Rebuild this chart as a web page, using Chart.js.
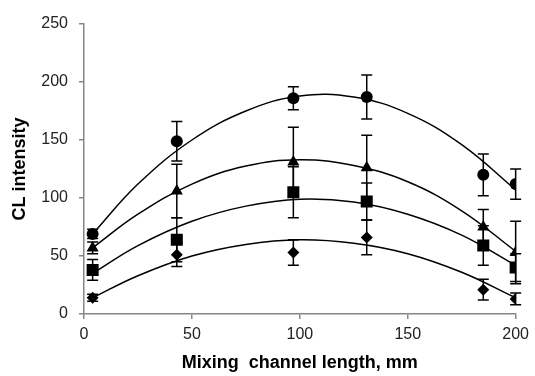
<!DOCTYPE html>
<html>
<head>
<meta charset="utf-8">
<script src="https://cdn.jsdelivr.net/npm/chart.js@4.4.1/dist/chart.umd.min.js"></script>
<style>
  html, body { margin: 0; padding: 0; background: #fff; }
  #wrap { width: 535px; height: 376px; }
</style>
</head>
<body>
<div id="wrap"><canvas id="myChart"></canvas></div>
<script>
// measured points (mixing channel length, mm)
const lengths = [4, 43, 97, 131, 185, 200]

const circleVals = [69, 149, 186, 187, 120, 112]
const circleErr = [4, 17, 10, 19, 18, 13]
const triangleVals = [57, 106, 131, 126, 75, 53]
const triangleErr = [5, 23, 30, 28, 15, 27]
const squareVals = [38, 64, 105, 97, 59, 40]
const squareErr = [9, 19, 22, 16, 17, 12]
const diamondVals = [14, 51, 53, 66, 21, 13]
const diamondErr = [3, 10, 11, 15, 9, 5]

// trend curves
const curveX = [4, 25, 50, 75, 100, 125, 150, 175, 200]
const circleCurve = [69, 112, 150, 175, 188, 187, 173, 146, 107]
const triangleCurve = [57, 86, 112, 127.5, 133, 128, 114, 89, 54]
const squareCurve = [35, 59, 80, 93, 99, 96.5, 86, 68, 42]
const diamondCurve = [14, 33, 50, 60, 64, 61, 52, 36, 14]

const xTicks = [0, 50, 100, 150, 200]
const yTicks = [0, 50, 100, 150, 200, 250]

const series = [
    { vals: circleVals, err: circleErr, curve: circleCurve, style: 'circle', r: 6 },
    { vals: triangleVals, err: triangleErr, curve: triangleCurve, style: 'triangle', r: 7 },
    { vals: squareVals, err: squareErr, curve: squareCurve, style: 'rect', r: 8.5 },
    { vals: diamondVals, err: diamondErr, curve: diamondCurve, style: 'rectRot', r: 6 }
]

const toPts = (xs, ys) => xs.map((x, i) => ({ x: x, y: ys[i] }))

let datasets = []
series.forEach(s => {
    datasets.push({
        data: toPts(curveX, s.curve),
        showLine: true,
        tension: 0.4,
        borderColor: '#000',
        borderWidth: 1.5,
        pointRadius: 0,
        order: 1
    })
})
series.forEach(s => {
    datasets.push({
        data: toPts(lengths, s.vals),
        showLine: false,
        pointStyle: s.style,
        pointRadius: s.r,
        pointBackgroundColor: '#000',
        pointBorderColor: '#000',
        pointBorderWidth: 0,
        order: 0
    })
})

const errorBars = {
    id: 'errorBars',
    beforeDatasetsDraw(chart) {
        const { ctx, scales: { x, y } } = chart
        ctx.save()
        ctx.strokeStyle = '#000'
        ctx.lineWidth = 1.5
        series.forEach(s => {
            s.vals.forEach((v, i) => {
                const px = x.getPixelForValue(lengths[i])
                const top = y.getPixelForValue(v + s.err[i])
                const bot = y.getPixelForValue(v - s.err[i])
                ctx.beginPath()
                ctx.moveTo(px, top); ctx.lineTo(px, bot)
                ctx.moveTo(px - 5.5, top); ctx.lineTo(px + 5.5, top)
                ctx.moveTo(px - 5.5, bot); ctx.lineTo(px + 5.5, bot)
                ctx.stroke()
            })
        })
        ctx.restore()
    }
}

const tickFont = { family: 'Liberation Sans', size: 16 }
const titleFont = { family: 'Liberation Sans', size: 18, weight: 'bold' }

new Chart(document.getElementById('myChart'), {
    type: 'scatter',
    data: { datasets: datasets },
    plugins: [errorBars],
    options: {
        responsive: true,
        maintainAspectRatio: false,
        animation: false,
        layout: { padding: { top: 24, right: 17, bottom: 0, left: 0 } },
        plugins: { legend: { display: false }, tooltip: { enabled: false } },
        scales: {
            x: {
                type: 'linear',
                min: 0, max: 200,
                afterBuildTicks: s => { s.ticks = xTicks.map(v => ({ value: v })) },
                afterFit: s => { s.height = 62 },
                grid: { drawOnChartArea: false, tickLength: 5, color: '#868686', lineWidth: 1.5 },
                border: { color: '#868686', width: 1.5 },
                ticks: { font: tickFont, color: '#222', padding: 6, maxRotation: 0 },
                title: { display: true, text: 'Mixing  channel length, mm', font: titleFont, color: '#000', padding: { top: 4, bottom: 2 } }
            },
            y: {
                min: 0, max: 250,
                afterBuildTicks: s => { s.ticks = yTicks.map(v => ({ value: v })) },
                afterFit: s => { s.width = 84 },
                grid: { drawOnChartArea: false, tickLength: 5, color: '#868686', lineWidth: 1.5 },
                border: { color: '#868686', width: 1.5 },
                ticks: { font: tickFont, color: '#222', padding: 11 },
                title: { display: true, text: 'CL intensity', font: titleFont, color: '#000', padding: { top: 9, bottom: 4 } }
            }
        }
    }
});
</script>
</body>
</html>
